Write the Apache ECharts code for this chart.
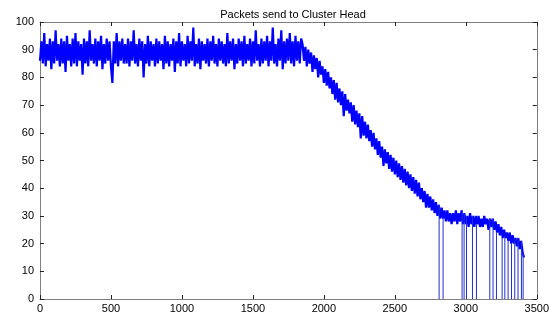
<!DOCTYPE html>
<html>
<head>
<meta charset="utf-8">
<script src="https://cdn.jsdelivr.net/npm/echarts@6/dist/echarts.min.js"></script>
<style>
  html, body { margin: 0; padding: 0; background: #fff; }
  #main { width: 552px; height: 318px; }
</style>
</head>
<body>
<div id="main"></div>
<script>
// packets per round, one reading every 10 rounds
const sampleStep = 10;

// rounds 0 .. 1840, flat part
const flatPackets = [
  86, 93, 85, 96, 84, 92, 86, 94, 83, 93, 85, 97, 86, 92, 84, 94, 85, 93, 82, 95,
  86, 92, 84, 94, 85, 96, 84, 93, 86, 92, 81, 94, 85, 93, 84, 97, 86, 92, 85, 94,
  84, 93, 86, 95, 83, 92, 85, 94, 86, 93, 84, 78, 93, 85, 96, 84, 93, 86, 94, 85,
  92, 85, 94, 84, 93, 86, 97, 85, 92, 84, 94, 86, 93, 80, 92, 85, 95, 84, 93, 86,
  92, 84, 94, 85, 93, 86, 92, 83, 95, 85, 93, 84, 92, 86, 94, 82, 93, 85, 96, 84,
  93, 86, 92, 84, 95, 85, 93, 86, 98, 84, 92, 85, 94, 83, 93, 86, 92, 85, 94, 84,
  93, 86, 95, 85, 92, 84, 94, 86, 93, 85, 92, 84, 96, 85, 93, 86, 94, 83, 92, 85,
  94, 86, 93, 84, 95, 85, 92, 86, 94, 84, 93, 85, 97, 86, 92, 84, 94, 85, 93, 86,
  95, 84, 93, 86, 98, 85, 92, 84, 94, 86, 97, 83, 93, 85, 94, 86, 96, 85, 93, 84,
  95, 86, 93, 85, 94
];

// rounds 1850 .. 3410, nodes dying off
const declinePackets = [
  92, 86, 91, 84, 90, 85, 89, 82, 88, 83,
  87, 80, 86, 81, 84, 78, 83, 77, 82, 76,
  80, 74, 79, 72, 78, 71, 76, 70, 75, 66,
  74, 68, 72, 67, 71, 64, 70, 63, 68, 62,
  67, 58, 66, 59, 64, 58, 63, 57, 61, 55,
  60, 54, 58, 52, 57, 51, 55, 48, 54, 49,
  53, 47, 52, 46, 51, 45, 50, 44, 49, 43,
  48, 42, 47, 41, 46, 40, 45, 39, 44, 38,
  43, 37, 42, 36, 40, 35, 39, 33, 38, 33,
  37, 32, 36, 31, 35, 30, 34, 29, 33, 29,
  32, 28, 32, 28, 31, 27, 31, 28, 32, 27,
  31, 28, 32, 27, 31, 27, 30, 26, 31, 27,
  30, 26, 30, 27, 30, 26, 29, 26, 30, 27,
  29, 25, 29, 26, 29, 25, 28, 24, 27, 23,
  26, 22, 25, 22, 24, 21, 24, 20, 23, 20,
  22, 19, 22, 18, 21, 17, 15
];

// rounds where nothing reached the cluster head
const zeroRounds = [
  2812, 2840, 2974, 2988, 3005, 3047, 3075, 3169, 3192,
  3216, 3256, 3275, 3298, 3322, 3345, 3368, 3392, 3404
];

const xTicks = ["0", "500", "1000", "1500", "2000", "2500", "3000", "3500"];
const yTicks = ["0", "10", "20", "30", "40", "50", "60", "70", "80", "90", "100"];

// [round, packets] pairs
const packets = flatPackets.concat(declinePackets);
const points = packets.map((v, i) => [i * sampleStep, v]);

// each zero round: a thin drop from the nearby reading down to 0
const drops = [];
zeroRounds.forEach((r) => {
  const level = packets[Math.round(r / sampleStep)];
  drops.push([r, level], [r, 0], "-");
});

const axisColor = "#7f7f7f";
const labelFont = { color: "#000", fontSize: 11, fontFamily: "Liberation Sans, Arial, sans-serif" };

const xMax = Number(xTicks[xTicks.length - 1]);
const yMax = Number(yTicks[yTicks.length - 1]);

const baseX = {
  type: "value",
  min: 0,
  max: xMax,
  interval: 500,
  axisLine: { show: true, onZero: false, lineStyle: { color: axisColor, width: 1 } },
  axisTick: { show: true, inside: true, length: 4, lineStyle: { color: "#222" } },
  splitLine: { show: false },
};
const baseY = {
  type: "value",
  min: 0,
  max: yMax,
  interval: 10,
  axisLine: { show: true, onZero: false, lineStyle: { color: axisColor, width: 1 } },
  axisTick: { show: true, inside: true, length: 4, lineStyle: { color: "#222" } },
  splitLine: { show: false },
};

const option = {
  animation: false,
  backgroundColor: "#fff",
  title: {
    text: "Packets send to Cluster Head",
    left: 288,
    textAlign: "center",
    top: 4,
    textStyle: { fontSize: 11, fontWeight: "normal", color: "#000", fontFamily: "Liberation Sans, Arial, sans-serif" },
  },
  grid: { left: 40, right: 15, top: 22, bottom: 19, containLabel: false },
  xAxis: [
    {
      ...baseX,
      position: "bottom",
      axisLabel: { ...labelFont, margin: 4, formatter: (v) => xTicks[v / 500] },
    },
    { ...baseX, position: "top", axisLabel: { show: false } },
  ],
  yAxis: [
    {
      ...baseY,
      position: "left",
      axisLabel: { ...labelFont, margin: 6, formatter: (v) => yTicks[v / 10] },
    },
    { ...baseY, position: "right", axisLabel: { show: false } },
  ],
  series: [
    {
      type: "line",
      data: points,
      showSymbol: false,
      silent: true,
      lineStyle: { color: "#0000ff", width: 2.2, join: "bevel" },
    },
    {
      type: "line",
      data: drops,
      showSymbol: false,
      silent: true,
      connectNulls: false,
      lineStyle: { color: "#2030d0", width: 1 },
    },
  ],
};

const myChart = echarts.init(document.getElementById("main"));
myChart.setOption(option);
</script>
</body>
</html>
